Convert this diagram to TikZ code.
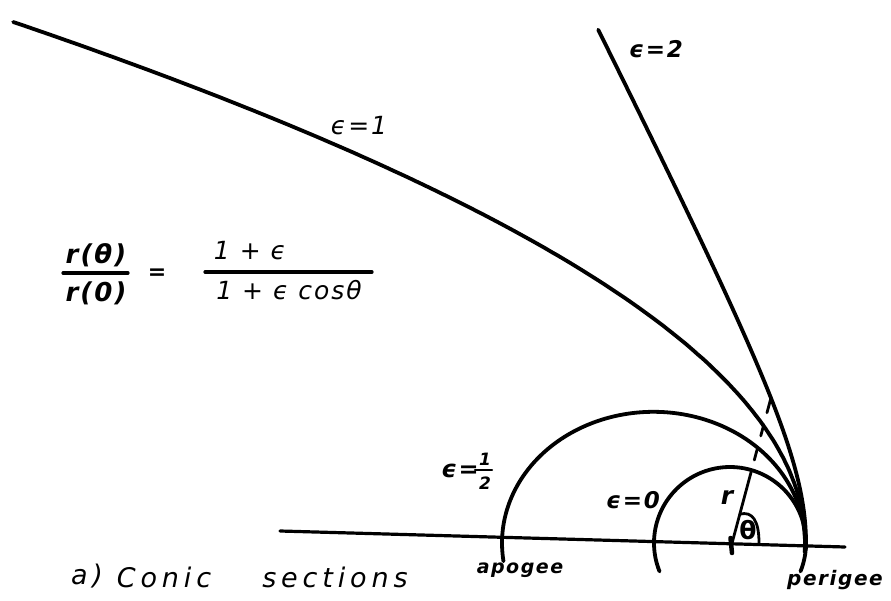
\documentclass[tikz,border=0pt]{standalone}
\usepackage{fontspec}
\setmainfont{DejaVu Sans}
\newfontfamily\handA{DejaVu Sans}[LetterSpace=8]
\newfontfamily\handB{DejaVu Sans}[LetterSpace=18]
\usetikzlibrary{calc}
\tikzset{
  curve/.style={line width=3.8pt, line cap=round, line join=round},
  rulebar/.style={line width=3.2pt, line cap=round},
  thinline/.style={line width=2.8pt, line cap=round, line join=round},
  lbl/.style={inner sep=0pt, anchor=center},
}
\begin{document}
\begin{tikzpicture}[x=1pt,y=-1pt]
\useasboundingbox (0,0) rectangle (891,601);
% axis
\coordinate (axL) at (280,531);
\coordinate (axR) at (845,547);
\draw[rulebar] (axL) -- (axR);
% circle (eps = 0)
\draw[curve] plot[domain=-22:202, samples=90, variable=\t] ({730+76*cos(\t)},{543-76*sin(\t)});
% ellipse (eps = 1/2)
\draw[curve] plot[domain=-4:188, samples=110, variable=\t] ({653.5+151.5*cos(\t)},{543-131.2*sin(\t)});
% parabola (eps = 1), as drawn by hand
\draw[curve] plot[domain=-6:521, samples=150, variable=\s] ({805-10241*(sqrt(1+(\s/1300)^2)-1)},{543-\s});
% hyperbola (eps = 2)
\draw[curve] plot[domain=-0.05:4.35, samples=120, variable=\u] ({866-60*sqrt(1+\u*\u)},{543-118*\u});
% focus and radius
\coordinate (F) at (731,547);
\draw[line width=4.5pt, line cap=round] (730.5,538) -- (732,553);
\draw[thinline] (F) -- ($(F)+(-75:79.6)$);
\draw[thinline] ($(F)+(-75:90)$) -- ($(F)+(-75:103)$);
\draw[thinline] ($(F)+(-75:115)$) -- ($(F)+(-75:126.5)$);
\draw[thinline] ($(F)+(-75:139)$) -- ($(F)+(-75:155)$);
% angle mark
\draw[thinline] ($(F)+(-75:34)$) .. controls (752,511) and (759,520) .. (759,543);
\node[lbl, font={\fontsize{25}{27}\selectfont\bfseries}] (th) at (748,530) {θ};
\node[lbl, font={\fontsize{25}{27}\selectfont\bfseries\itshape}] (r) at (727,497) {r};
% labels of curves
\node[lbl, font={\handA\fontsize{23}{25}\selectfont\bfseries\itshape}] (e2) at (656,49) {ϵ=2};
\node[lbl, font={\handA\fontsize{25}{27}\selectfont\itshape}] (e1) at (359,126) {ϵ=1};
\node[lbl, font={\handA\fontsize{23}{25}\selectfont\bfseries\itshape}] (e0) at (633,500) {ϵ=0};
\node[lbl, font={\handA\fontsize{24}{26}\selectfont\bfseries\itshape}] (ehA) at (460,471) {ϵ=};
\node[lbl, font={\fontsize{17}{18}\selectfont\bfseries\itshape}] (ehB) at (485,459) {1};
\node[lbl, font={\fontsize{17}{18}\selectfont\bfseries\itshape}] (ehC) at (485,483) {2};
\draw[line width=2.4pt, line cap=round] (475,470) -- (492,470);
% formula
\node[lbl, font={\handA\fontsize{26}{28}\selectfont\bfseries\itshape}] (num1) at (96,255) {r(θ)};
\draw[rulebar] (63,273) -- (128,273);
\node[lbl, font={\handA\fontsize{26}{28}\selectfont\bfseries\itshape}] (den1) at (96,293) {r(0)};
\node[lbl, font={\fontsize{22}{24}\selectfont\bfseries}] (eq) at (157,274) {=};
\node[lbl, font={\handA\fontsize{25}{27}\selectfont\itshape}] (num2) at (250,251) {1 + ϵ};
\draw[rulebar] (205,272) -- (372,272);
\node[lbl, font={\handA\fontsize{25}{27}\selectfont\itshape}] (den2) at (289,290) {1 + ϵ cosθ};
% apsides
\node[lbl, font={\handA\fontsize{19}{21}\selectfont\bfseries\itshape}] (apo) at (520,570) {apogee};
\node[lbl, font={\handA\fontsize{20}{22}\selectfont\bfseries\itshape}] (peri) at (835,580) {perigee};
% caption
\node[lbl, font={\handB\fontsize{27}{29}\selectfont\itshape}] (capA) at (87,576) {a)};
\node[lbl, font={\handB\fontsize{27}{29}\selectfont\itshape}] (capB) at (164,577) {Conic};
\node[lbl, font={\handB\fontsize{27}{29}\selectfont\itshape}] (capC) at (335,577) {sections};
\end{tikzpicture}
\end{document}
